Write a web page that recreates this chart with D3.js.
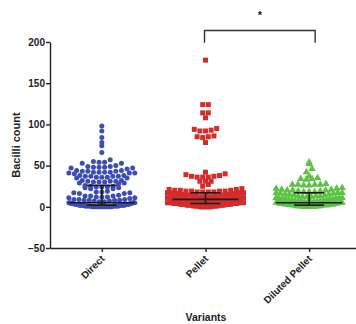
<!DOCTYPE html>
<html>
<head>
<meta charset="utf-8">
<script src="https://cdn.jsdelivr.net/npm/d3@7"></script>
<style>
  body { margin: 0; background: #fff; }
  text { font-family: "Liberation Sans", Arial, sans-serif; font-weight: bold; fill: #222; }
</style>
</head>
<body>
<div id="chart"></div>
<script>
// values
const categories = ["Direct", "Pellet", "Diluted Pellet"];

const direct = [
  98, 92, 84, 78, 74, 66,
  57, 55, 54, 54, 53, 53,
  50, 49, 49, 48, 48, 48, 47, 47, 46,
  44, 44, 43, 43, 43, 42, 42, 42, 42, 41, 41, 41, 40,
  38, 38, 37, 37, 37, 37, 36, 36, 36, 35, 35,
  32, 32, 31, 31, 31, 30, 30, 30, 29, 29, 28,
  26, 25, 25, 24, 24, 24, 23, 23, 22, 22,
  19, 18, 18, 17, 17, 16, 16,
  14, 13, 13, 13, 12, 12, 12, 11, 11, 10,
  9, 9, 9, 8, 8, 8, 8, 7, 7,
  6, 6, 5, 5, 5, 5, 5, 4, 4, 4, 4, 4,
  3, 3, 3, 3, 3, 3, 3, 3, 2, 2, 2, 2, 2, 2, 2, 2, 2, 2,
  1, 1, 1, 1, 1, 1, 1, 1, 1, 1, 1, 1,
  0, 0, 0, 0, 0, 0, 0, 0, 0, 0, 0, 0, 0, 0, 0, 0, 0, 0
];

const pellet = [
  178,
  124, 124, 114, 114, 108,
  95, 94, 93, 92, 92, 86, 85, 85, 84, 78,
  42, 40, 39, 38, 37, 37, 36, 36, 36, 31, 31, 31, 27, 25,
  22, 21, 21, 20, 20, 20, 19, 19, 19, 19, 18, 18, 18, 18, 17, 17, 17, 17,
  16, 16, 16, 16, 15, 15, 15, 15, 14, 14, 14, 14, 13, 13, 13, 13,
  12, 12, 12, 12, 12, 11, 11, 11, 11, 10, 10, 10, 10, 10,
  9, 9, 9, 9, 9, 8, 8, 8, 8, 8, 7, 7, 7, 7, 7, 6, 6, 6, 6, 6,
  5, 5, 5, 5, 5, 5, 4, 4, 4, 4, 4, 4, 3, 3, 3, 3, 3, 3,
  2, 2, 2, 2, 2, 2, 1, 1, 1, 1, 1, 1, 0, 0, 0, 0, 0, 0
];

const diluted = [
  54, 52, 46, 42, 37,
  35, 34, 34, 33,
  28, 27, 27, 27, 26, 26, 27,
  23, 22, 22, 21, 21, 20, 20, 20, 19, 19, 18, 18, 18, 17, 17, 17, 16, 16,
  15, 15, 15, 14, 14, 13, 13, 13, 12, 12, 12, 11, 11, 11, 10, 10, 10,
  9, 9, 9, 9, 8, 8, 8, 8, 7, 7, 7, 7, 6, 6, 6, 6,
  5, 5, 5, 5, 5, 4, 4, 4, 4, 4, 3, 3, 3, 3, 3, 3,
  2, 2, 2, 2, 2, 2, 2, 1, 1, 1, 1, 1, 1, 1, 0, 0, 0, 0, 0, 0, 0
];

// median with interquartile range
const medians = [5, 9, 5];
const q1 = [2, 4, 2];
const q3 = [26, 17, 17];

const yTicks = [-50, 0, 50, 100, 150, 200];
const sigPair = ["Pellet", "Diluted Pellet"];
const sigLevel = 214, sigFoot = 199;

const width = 356, height = 324;

const svg = d3.select("#chart").append("svg")
  .attr("width", width)
  .attr("height", height);

let x_scale = d3.scalePoint()
  .domain(categories)
  .range([50, 361])
  .padding(0.5);

let y_scale = d3.scaleLinear()
  .domain([-50, 200])
  .range([248, 42]);

// axes
svg.append("g")
  .attr("transform", "translate(50,0)")
  .call(d3.axisLeft(y_scale).tickValues(yTicks).tickSize(4).tickSizeOuter(0))
  .call(g => g.selectAll("path, line").attr("stroke", "#222").attr("stroke-width", 1.4))
  .call(g => g.selectAll("text").attr("font-size", 10).attr("x", -5).style("fill", "#222"));

svg.append("g")
  .attr("transform", "translate(0,248)")
  .call(d3.axisBottom(x_scale).tickSize(4).tickSizeOuter(0))
  .call(g => g.selectAll("path, line").attr("stroke", "#222").attr("stroke-width", 1.4))
  .call(g => g.selectAll("text").remove());

svg.append("g").selectAll("text")
  .data(categories)
  .join("text")
  .attr("transform", d => "translate(" + (x_scale(d) + 1) + ",257) rotate(-45)")
  .attr("text-anchor", "end")
  .attr("dy", "0.35em")
  .attr("font-size", 10)
  .text(d => d);

svg.append("text")
  .attr("transform", "translate(20,145) rotate(-90)")
  .attr("text-anchor", "middle")
  .attr("font-size", 11)
  .text("Bacilli count");

svg.append("text")
  .attr("x", 206)
  .attr("y", 321)
  .attr("text-anchor", "middle")
  .attr("font-size", 10.5)
  .text("Variants");

// simple column scatter layout: rows of similar values, spread from the centre
const binSize = 6;
const swarm = (values, cat, halfW, gap) => {
  const cx = x_scale(cat);
  const sorted = values.slice().sort((a, b) => a - b);
  const pts = [];
  d3.groups(sorted, v => Math.floor(v / binSize)).forEach(([k, vs]) => {
    const n = vs.length;
    const step = n > 1 ? Math.min(gap, 2 * halfW / (n - 1)) : 0;
    const slots = d3.range(n).map(j => (j - (n - 1) / 2) * step)
      .sort((a, b) => Math.abs(a) - Math.abs(b));
    vs.forEach((v, i) => pts.push({ x: cx + slots[i], y: y_scale(v) }));
  });
  return pts;
};

svg.append("g").selectAll("circle")
  .data(swarm(direct, "Direct", 33, 5.6))
  .join("circle")
  .attr("cx", d => d.x)
  .attr("cy", d => d.y)
  .attr("r", 2.5)
  .style("fill", "#3d4db4");

svg.append("g").selectAll("rect")
  .data(swarm(pellet, "Pellet", 38, 5.6))
  .join("rect")
  .attr("x", d => d.x - 2.5)
  .attr("y", d => d.y - 2.5)
  .attr("width", 5)
  .attr("height", 5)
  .style("fill", "#d42b2b");

svg.append("g").selectAll("path")
  .data(swarm(diluted, "Diluted Pellet", 33, 5.6))
  .join("path")
  .attr("transform", d => "translate(" + d.x + "," + d.y + ")")
  .attr("d", d3.symbol(d3.symbolTriangle, 24))
  .style("fill", "#5cc246");

// median + IQR bars
const stats = svg.append("g")
  .attr("stroke", "#1a1a1a")
  .attr("stroke-width", 1.6);
categories.forEach((c, i) => {
  const cx = x_scale(c);
  stats.append("line")
    .attr("x1", cx - 33).attr("x2", cx + 33)
    .attr("y1", y_scale(medians[i])).attr("y2", y_scale(medians[i]));
  stats.append("line")
    .attr("x1", cx).attr("x2", cx)
    .attr("y1", y_scale(q1[i])).attr("y2", y_scale(q3[i]));
  [q1[i], q3[i]].forEach(q => {
    stats.append("line")
      .attr("x1", cx - 15).attr("x2", cx + 15)
      .attr("y1", y_scale(q)).attr("y2", y_scale(q));
  });
});

// significance bracket
const bx1 = x_scale(sigPair[0]) - 1, bx2 = x_scale(sigPair[1]) + 6;
svg.append("path")
  .attr("d", "M" + bx1 + "," + y_scale(sigFoot) + "V" + y_scale(sigLevel) +
    "H" + bx2 + "V" + y_scale(sigFoot))
  .attr("fill", "none")
  .attr("stroke", "#333")
  .attr("stroke-width", 1.4);

svg.append("text")
  .attr("x", (bx1 + bx2) / 2)
  .attr("y", y_scale(sigLevel) - 11)
  .attr("text-anchor", "middle")
  .attr("font-size", 11)
  .text("*");
</script>
</body>
</html>
